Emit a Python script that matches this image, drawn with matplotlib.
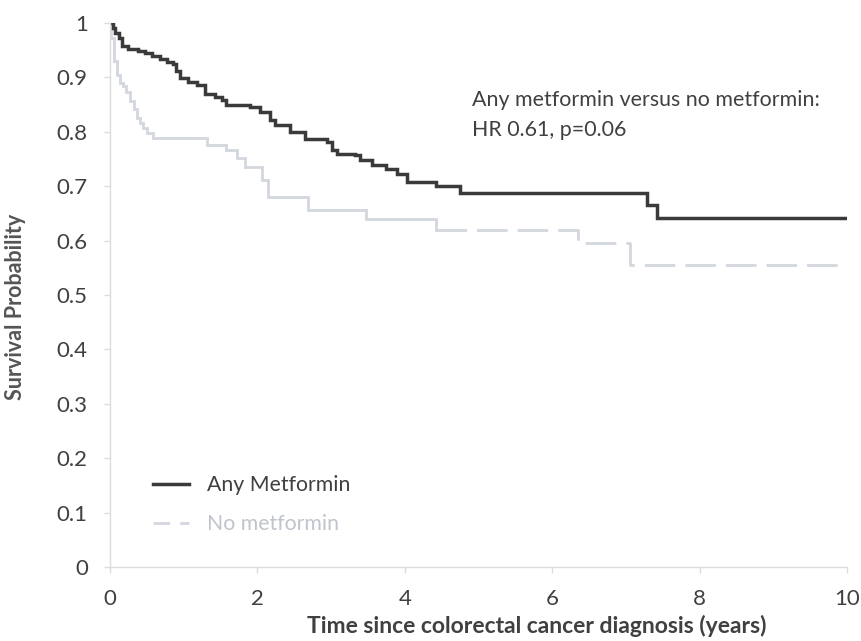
import matplotlib
matplotlib.use("Agg")
import matplotlib.pyplot as plt
from matplotlib.lines import Line2D

plt.rcParams['font.family'] = ['Lato', 'DejaVu Sans']

# Any Metformin: step times (years) and survival after each step
met_t = [0.00, 0.04, 0.07, 0.12, 0.16, 0.25, 0.38, 0.47, 0.57, 0.68, 0.77, 0.86,
         0.90, 0.95, 1.06, 1.18, 1.29, 1.42, 1.52, 1.58, 1.90, 2.04, 2.17, 2.24,
         2.44, 2.65, 2.94, 3.01, 3.08, 3.32, 3.39, 3.55, 3.75, 3.89, 4.03, 4.43,
         4.75, 7.28, 7.42, 10.0]
met_s = [1.000, 0.990, 0.982, 0.972, 0.957, 0.952, 0.949, 0.945, 0.940, 0.934, 0.928, 0.924,
         0.912, 0.898, 0.892, 0.886, 0.870, 0.864, 0.858, 0.849, 0.845, 0.836, 0.821, 0.812,
         0.800, 0.787, 0.781, 0.766, 0.760, 0.757, 0.748, 0.739, 0.732, 0.723, 0.708, 0.700,
         0.687, 0.665, 0.641, 0.641]

# No metformin
no_t = [0.00, 0.02, 0.06, 0.09, 0.13, 0.18, 0.22, 0.27, 0.32, 0.36, 0.41, 0.45,
        0.50, 0.59, 1.31, 1.58, 1.72, 1.83, 2.06, 2.15, 2.69, 3.48, 4.43, 6.35,
        7.06, 10.0]
no_s = [1.000, 0.972, 0.930, 0.905, 0.890, 0.884, 0.874, 0.856, 0.841, 0.825, 0.816, 0.807,
        0.798, 0.789, 0.776, 0.767, 0.752, 0.736, 0.711, 0.681, 0.656, 0.639, 0.620, 0.595,
        0.555, 0.555]

x_ticks = [0, 2, 4, 6, 8, 10]
y_ticks = [0, 0.1, 0.2, 0.3, 0.4, 0.5, 0.6, 0.7, 0.8, 0.9, 1]
y_tick_labels = ['0', '0.1', '0.2', '0.3', '0.4', '0.5', '0.6', '0.7', '0.8', '0.9', '1']

dark = '#3a3a3a'
light = '#d3d7de'
axis_col = '#dcdcdc'
text_col = '#404040'

fig = plt.figure(figsize=(8.61, 6.41), dpi=100)
ax = fig.add_axes([110/861, 1-567/641, 737/861, 544/641])

# No metformin: solid early part, dashed after the 4.43 step
split = no_t.index(4.43)
ax.step(no_t[:split+1], no_s[:split+1], where='post', color=light, lw=2.0, solid_joinstyle='miter')
ax.step(no_t[split:], no_s[split:], where='post', color=light, lw=2.0, dashes=(11, 3.6))
ax.step(met_t, met_s, where='post', color=dark, lw=2.5, solid_joinstyle='miter')

ax.set_xlim(0, 10)
ax.set_ylim(0, 1)
ax.set_xticks(x_ticks)
ax.set_xticklabels([str(v) for v in x_ticks])
ax.set_yticks(y_ticks)
ax.set_yticklabels(y_tick_labels)
for s in ['top', 'right']:
    ax.spines[s].set_visible(False)
for s in ['left', 'bottom']:
    ax.spines[s].set_color(axis_col)
    ax.spines[s].set_linewidth(1.0)
ax.tick_params(axis='both', colors=axis_col, labelcolor=text_col, labelsize=16, length=4, width=1)
ax.tick_params(axis='x', pad=12)
ax.tick_params(axis='y', pad=12)

ax.set_ylabel('Survival Probability', fontsize=15.5, fontweight='bold', color='#555555')
ax.yaxis.set_label_coords(-(110-15)/737, (567-307)/544)
ax.set_xlabel('Time since colorectal cancer diagnosis (years)', fontsize=16.5, fontweight='bold',
              color=text_col)
ax.xaxis.set_label_coords((537-110)/737, -(626-567)/544)
ax.xaxis.label.set_va('center')
ax.yaxis.label.set_va('center')

ax.text(472/861, 1-100/641, 'Any metformin versus no metformin:', transform=fig.transFigure,
        fontsize=15.4, color=text_col, va='center', ha='left')
ax.text(472/861, 1-130/641, 'HR 0.61, p=0.06', transform=fig.transFigure,
        fontsize=15.4, color=text_col, va='center', ha='left')

handles = [Line2D([], [], color=dark, lw=2.5), Line2D([], [], color=light, lw=2.0, dashes=(6, 3.6))]
leg = ax.legend(handles, ['Any Metformin', 'No metformin'], loc='upper left',
                bbox_to_anchor=((153-110)/737, 1-(475-23)/544), frameon=False, fontsize=15.3,
                handlelength=1.7, handletextpad=0.85, labelspacing=0.9,
                borderpad=0, borderaxespad=0)
leg.get_texts()[0].set_color(text_col)
leg.get_texts()[1].set_color('#c0c4cc')

fig.savefig('out.png', dpi=100, facecolor='white')
